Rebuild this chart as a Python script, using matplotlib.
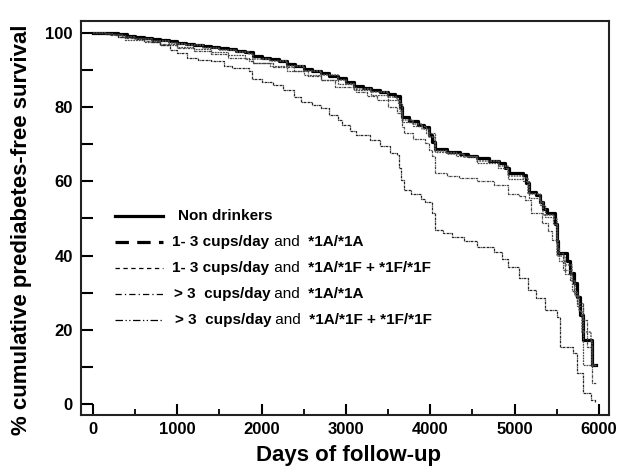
import matplotlib
matplotlib.use("Agg")
import matplotlib.pyplot as plt
from matplotlib.ticker import MultipleLocator, FuncFormatter

plt.rcParams["font.family"] = ["Liberation Sans", "DejaVu Sans"]

# Kaplan-Meier style step curves (days, % survival)
days_non = [0, 200, 300, 400, 500, 600, 700, 800, 900, 1000, 1100, 1200, 1300, 1400,
            1500, 1600, 1700, 1800, 1900, 2000, 2100, 2200, 2300, 2400, 2500, 2600,
            2700, 2800, 2900, 3000, 3100, 3200, 3300, 3400, 3500, 3580, 3640, 3670,
            3750, 3850, 3920, 3980, 4020, 4060, 4200, 4350, 4450, 4550, 4700, 4820,
            4880, 4930, 5100, 5140, 5170, 5250, 5300, 5340, 5380, 5480, 5500, 5520,
            5620, 5660, 5700, 5740, 5780, 5810, 5915, 5965]
surv_non = [100, 100, 99.6, 99.2, 98.8, 98.5, 98.3, 98.0, 97.8, 97.4, 97.0, 96.8,
            96.5, 96.2, 96.0, 95.6, 95.2, 94.9, 93.8, 93.3, 92.9, 92.3, 91.6, 91.0,
            90.3, 89.6, 89.2, 88.5, 87.8, 86.8, 85.8, 85.2, 84.6, 84.0, 83.4, 82.9,
            80.0, 77.2, 76.3, 75.2, 74.5, 72.5, 70.5, 68.8, 68.0, 67.4, 66.7, 66.2,
            65.5, 64.8, 63.5, 62.2, 61.6, 59.5, 57.2, 56.2, 54.5, 52.5, 51.4, 48.5,
            44.0, 40.6, 38.4, 35.3, 32.6, 28.9, 24.0, 17.3, 10.5, 10.5]

days_low_1a = [0, 150, 250, 350, 500, 700, 900, 1000, 1100, 1300, 1500, 1700, 1850,
               1900, 2100, 2300, 2500, 2700, 2900, 3000, 3100, 3300, 3500, 3600, 3640,
               3670, 3800, 3900, 3980, 4060, 4200, 4400, 4550, 4820, 4920, 5100, 5160,
               5300, 5340, 5470, 5500, 5600, 5680, 5720, 5760, 5800, 5900, 5915, 5955]
surv_low_1a = [100, 99.8, 99.4, 98.8, 98.4, 97.9, 97.4, 97.0, 96.6, 96.0, 95.5, 94.8,
               94.2, 93.0, 92.3, 91.0, 89.8, 88.7, 87.3, 86.2, 85.0, 84.0, 82.8, 82.0,
               79.0, 76.4, 75.5, 74.2, 72.0, 68.2, 67.4, 66.6, 65.6, 64.2, 61.4, 61.0,
               56.5, 54.5, 50.8, 49.8, 40.0, 37.5, 33.0, 29.0, 25.0, 19.5, 17.0, 10.5,
               10.5]

days_low_1f = [0, 150, 300, 380, 600, 800, 1000, 1200, 1400, 1600, 1800, 1900, 2100,
               2300, 2500, 2700, 2900, 3100, 3300, 3500, 3620, 3660, 3800, 3950, 4060,
               4300, 4550, 4800, 4920, 5100, 5170, 5300, 5360, 5450, 5500, 5530, 5600,
               5680, 5740, 5810, 5813, 5960]
surv_low_1f = [100, 99.6, 98.8, 98.0, 97.5, 96.8, 96.2, 95.6, 94.8, 94.0, 93.0, 92.0,
               91.0, 89.8, 88.6, 87.4, 86.2, 84.5, 83.2, 82.0, 81.0, 76.0, 74.8, 73.0,
               67.8, 66.8, 65.0, 63.5, 60.5, 60.0, 55.5, 53.5, 50.5, 48.5, 42.0, 38.4,
               35.0, 30.5, 26.5, 23.5, 10.5, 10.5]

days_high_1a = [0, 200, 380, 600, 800, 1000, 1200, 1400, 1600, 1850, 1900, 2135, 2380,
                2550, 2705, 2870, 3118, 3250, 3363, 3500, 3605, 3666, 3690, 3800, 3937,
                3990, 4017, 4056, 4200, 4340, 4550, 4753, 4917, 5050, 5120, 5200, 5325,
                5400, 5448, 5510, 5571, 5652, 5700, 5735, 5815, 5856, 5915, 5965]
surv_high_1a = [100, 99.5, 98.5, 97.8, 97.0, 96.0, 95.0, 94.2, 93.3, 92.5, 92.0, 90.9,
                89.6, 88.5, 87.3, 85.4, 84.2, 83.0, 81.9, 80.0, 78.3, 74.7, 73.0, 71.5,
                70.2, 68.5, 66.7, 62.2, 61.5, 60.8, 60.0, 59.0, 56.5, 56.0, 55.0, 51.4,
                48.7, 46.5, 44.2, 40.6, 36.1, 33.4, 30.0, 27.2, 22.6, 15.4, 5.6, 5.6]

days_high_1f = [0, 150, 300, 500, 700, 800, 910, 1000, 1113, 1250, 1400, 1550, 1645,
                1850, 1890, 2000, 2135, 2250, 2380, 2463, 2600, 2705, 2800, 2900, 2953,
                3050, 3118, 3281, 3403, 3523, 3605, 3630, 3650, 3690, 3770, 3890, 3937,
                4017, 4056, 4150, 4257, 4400, 4550, 4753, 4850, 4917, 5050, 5160, 5250,
                5360, 5498, 5540, 5692, 5735, 5813, 5900, 5950]
surv_high_1f = [100, 99.7, 99.0, 98.3, 97.5, 96.8, 95.4, 94.5, 93.2, 92.8, 92.3, 91.2,
                90.5, 89.6, 87.5, 86.8, 86.0, 84.5, 82.8, 81.5, 80.5, 79.7, 78.0, 76.5,
                75.2, 73.5, 72.5, 71.2, 69.4, 67.6, 67.1, 63.5, 60.4, 57.7, 56.5, 55.3,
                54.5, 51.4, 46.9, 46.0, 45.1, 43.8, 42.4, 41.0, 39.0, 37.0, 34.0, 30.7,
                28.5, 25.3, 23.5, 15.4, 13.7, 8.3, 2.9, 1.1, 0.6]

legend_parts = [
    [("Non drinkers", "bold")],
    [("1- 3 cups/day", "bold"), (" and ", "normal"), (" *1A/*1A", "bold")],
    [("1- 3 cups/day", "bold"), (" and ", "normal"), (" *1A/*1F + *1F/*1F", "bold")],
    [("> 3  cups/day", "bold"), (" and ", "normal"), (" *1A/*1A", "bold")],
    [("> 3  cups/day", "bold"), (" and ", "normal"), (" *1A/*1F + *1F/*1F", "bold")],
]

series = [
    (days_non, surv_non, dict(color="black", lw=2.3, ls="-")),
    (days_low_1a, surv_low_1a, dict(color="0.35", lw=1.1, ls=(0, (1.2, 0.6)))),
    (days_low_1f, surv_low_1f, dict(color="0.3", lw=0.9, ls=(0, (1.5, 0.7)))),
    (days_high_1a, surv_high_1a, dict(color="0.25", lw=0.9, ls=(0, (2, 0.6, 0.6, 0.6)))),
    (days_high_1f, surv_high_1f, dict(color="0.15", lw=0.9, ls=(0, (2, 0.5, 0.6, 0.5)))),
]
handle_styles = [
    dict(color="black", lw=2.3, ls="-"),
    dict(color="black", lw=2.3, ls=(0, (4.2, 2.6))),
    dict(color="black", lw=0.9, ls=(0, (3.5, 2.8))),
    dict(color="black", lw=0.9, ls=(0, (5, 2.5, 1, 2.5))),
    dict(color="black", lw=0.9, ls=(0, (6, 2, 1, 2, 1, 2))),
]

fig = plt.figure(figsize=(6.2, 4.67), dpi=100)
ax = fig.add_axes([81 / 620, 52.3 / 467, 528 / 620, 393.7 / 467])

for d, s, style in series:
    ax.step(d, s, where="post", **style)

ax.set_xlim(-142, 6119)
ax.set_ylim(-2.9, 103.2)

ax.xaxis.set_major_locator(MultipleLocator(1000))
ax.xaxis.set_minor_locator(MultipleLocator(500))
ax.yaxis.set_major_locator(MultipleLocator(10))
ax.yaxis.set_major_formatter(FuncFormatter(lambda v, p: f"{v:.0f}" if round(v) % 20 == 0 else ""))

ax.tick_params(axis="both", which="major", direction="in", width=1.5, labelsize=12)
ax.tick_params(axis="x", which="major", length=8, pad=5)
ax.tick_params(axis="x", which="minor", direction="in", length=4, width=1.3)
ax.tick_params(axis="y", which="major", length=8.6, pad=6)
for lab in ax.get_xticklabels() + ax.get_yticklabels():
    lab.set_fontweight("bold")
for sp in ax.spines.values():
    sp.set_linewidth(1.5)
    sp.set_color("#222222")

# hand-made legend with mixed bold/regular text
handle_x = [0.0653, 0.155]
row_y = [0.5055, 0.4387, 0.3727, 0.3066, 0.2406]
text_x = [0.183, 0.1731, 0.1731, 0.1758, 0.1777]
for i, parts in enumerate(legend_parts):
    ax.plot(handle_x, [row_y[i], row_y[i]], transform=ax.transAxes, **handle_styles[i])
    prev = ax.text(text_x[i], row_y[i], parts[0][0], transform=ax.transAxes,
                   fontsize=11, fontweight=parts[0][1], va="center", ha="left")
    for txt, w in parts[1:]:
        prev = ax.annotate(txt, xy=(1, 0), xycoords=prev, fontsize=11,
                           fontweight=w, va="bottom", ha="left")

fig.text(22 / 620, 1 - 230 / 467, "% cumulative prediabetes-free survival",
         rotation=90, ha="center", va="center", fontsize=16, fontweight="bold")
fig.text(349 / 620, 1 - 455 / 467, "Days of follow-up",
         ha="center", va="center", fontsize=16, fontweight="bold")

fig.savefig("out.png", dpi=100)
